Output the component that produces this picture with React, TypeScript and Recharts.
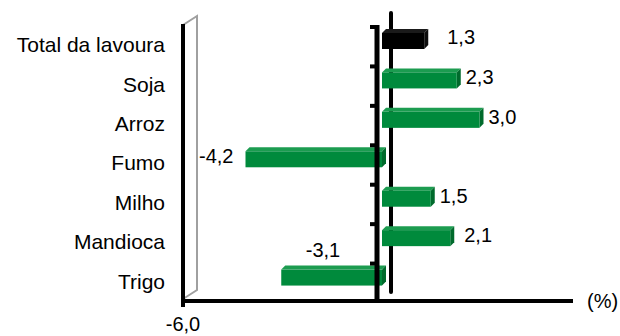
import { BarChart, Bar, XAxis, YAxis, ReferenceLine, LabelList } from 'recharts'

const CATEGORIES = ['Total da lavoura', 'Soja', 'Arroz', 'Fumo', 'Milho', 'Mandioca', 'Trigo']
const VALUES = [1.3, 2.3, 3.0, -4.2, 1.5, 2.1, -3.1]
const X_DOMAIN = [-6, 6]
const X_TICKS = [-6]
const TOTAL = 'Total da lavoura'

const data = CATEGORIES.map((name, i) => ({ name, value: VALUES[i] }))

const FONT = '"Liberation Sans", Arial, sans-serif'
const DEPTH = 4 // 3d offset of the bars
const fmt = (v: number) => v.toFixed(1).replace('.', ',')

// excel places a couple of labels a bit off, copy that
const LABEL_NUDGE: Record<string, [number, number]> = {
    'Total da lavoura': [14, -1],
    Mandioca: [5, 0],
    Trigo: [71, -25],
}

const Bar3D = (props: any) => {
    const { x, y, width, height, payload } = props
    const black = payload?.name === TOTAL
    const front = black ? '#000' : '#008a3c'
    const top = black ? '#1a1a1a' : '#1c9c50'
    const side = black ? '#0d0d0d' : '#006a2c'
    const x0 = Math.min(x, x + width) + DEPTH
    const x1 = Math.max(x, x + width) + DEPTH
    const y0 = y - DEPTH
    const d = DEPTH
    return (
        <g>
            <polygon points={`${x0},${y0} ${x0 + d},${y0 - d} ${x1 + d},${y0 - d} ${x1},${y0}`} fill={top} />
            <polygon points={`${x1},${y0} ${x1 + d},${y0 - d} ${x1 + d},${y0 + height - d} ${x1},${y0 + height}`} fill={side} />
            <rect x={x0} y={y0} width={x1 - x0} height={height} fill={front} />
        </g>
    )
}

const ValueLabel = (props: any) => {
    const { x, y, width, height, value, index } = props
    const name = CATEGORIES[index]
    const [nx, ny] = LABEL_NUDGE[name] || [0, 0]
    const neg = value < 0
    const lo = Math.min(x, x + width) + DEPTH
    const hi = Math.max(x, x + width) + DEPTH
    const cy = y + height / 2 - DEPTH - 3 + ny
    return (
        <text
            x={(neg ? lo - 12 : hi + 9) + nx}
            y={cy}
            textAnchor={neg ? 'end' : 'start'}
            dominantBaseline="central"
            fontSize={20}
            fill="#000"
        >
            {fmt(value)}
        </text>
    )
}

const LeftWall = (props: any) => {
    const { x1, y1, y2 } = props
    const top = Math.min(y1, y2)
    const bot = Math.max(y1, y2)
    return (
        <g>
            <polyline
                points={`${x1},${top} ${x1 + 14},${top - 9} ${x1 + 14},${bot - 11} ${x1},${bot - 2}`}
                fill="none"
                stroke="#a0a0a0"
                strokeWidth={2}
            />
            <line x1={x1} y1={top - 1} x2={x1} y2={bot + 6} stroke="#000" strokeWidth={4} />
        </g>
    )
}

const BackZero = (props: any) => {
    const { x1, y1, y2 } = props
    const top = Math.min(y1, y2)
    const bot = Math.max(y1, y2)
    return <line x1={x1 + 13} y1={top - 12} x2={x1 + 13} y2={bot - 9} stroke="#000" strokeWidth={4} strokeLinecap="round" />
}

const FrontZero = (props: any) => {
    const { x1, y1, y2 } = props
    const top = Math.min(y1, y2)
    const bot = Math.max(y1, y2)
    const step = (bot - top) / CATEGORIES.length
    return (
        <g>
            <line x1={x1 - 1} y1={top} x2={x1 - 1} y2={bot + 2} stroke="#000" strokeWidth={5} />
            {CATEGORIES.map((_, i) => (
                <line key={i} x1={x1 - 8} y1={top + i * step + 2} x2={x1 - 2} y2={top + i * step + 2} stroke="#000" strokeWidth={4} />
            ))}
            <line x1={x1 - 8} y1={bot} x2={x1 - 2} y2={bot} stroke="#000" strokeWidth={4} />
        </g>
    )
}

const PctLabel = (props: any) => {
    const { viewBox } = props
    return (
        <text x={viewBox.x + viewBox.width + 14} y={viewBox.y} dominantBaseline="central" fontSize={20} fill="#000">
            (%)
        </text>
    )
}

export default function App() {
    return (
        <div style={{ position: 'absolute', left: 0, top: 0, width: 620, height: 336, background: '#fff', fontFamily: FONT }}>
            <BarChart
                width={620}
                height={336}
                data={data}
                layout="vertical"
                margin={{ top: 25, right: 47, left: 0, bottom: 5 }}
                barSize={16}
            >
                <XAxis
                    type="number"
                    domain={X_DOMAIN}
                    ticks={X_TICKS}
                    tickFormatter={fmt}
                    height={30}
                    axisLine={{ stroke: '#000', strokeWidth: 4 }}
                    tickLine={false}
                    tickSize={0}
                    tickMargin={16}
                    tick={{ fill: '#000', fontSize: 20 }}
                    label={<PctLabel />}
                />
                <YAxis
                    type="category"
                    dataKey="name"
                    width={183}
                    axisLine={false}
                    tickLine={false}
                    tickSize={0}
                    tickMargin={18}
                    tick={{ fill: '#000', fontSize: 21 }}
                />
                <ReferenceLine x={-6} shape={<LeftWall />} zIndex={100} />
                <ReferenceLine x={0} shape={<BackZero />} zIndex={100} />
                <Bar dataKey="value" shape={<Bar3D />} isAnimationActive={false}>
                    <LabelList dataKey="value" content={<ValueLabel />} />
                </Bar>
                <ReferenceLine x={0} shape={<FrontZero />} zIndex={1500} />
            </BarChart>
        </div>
    )
}
